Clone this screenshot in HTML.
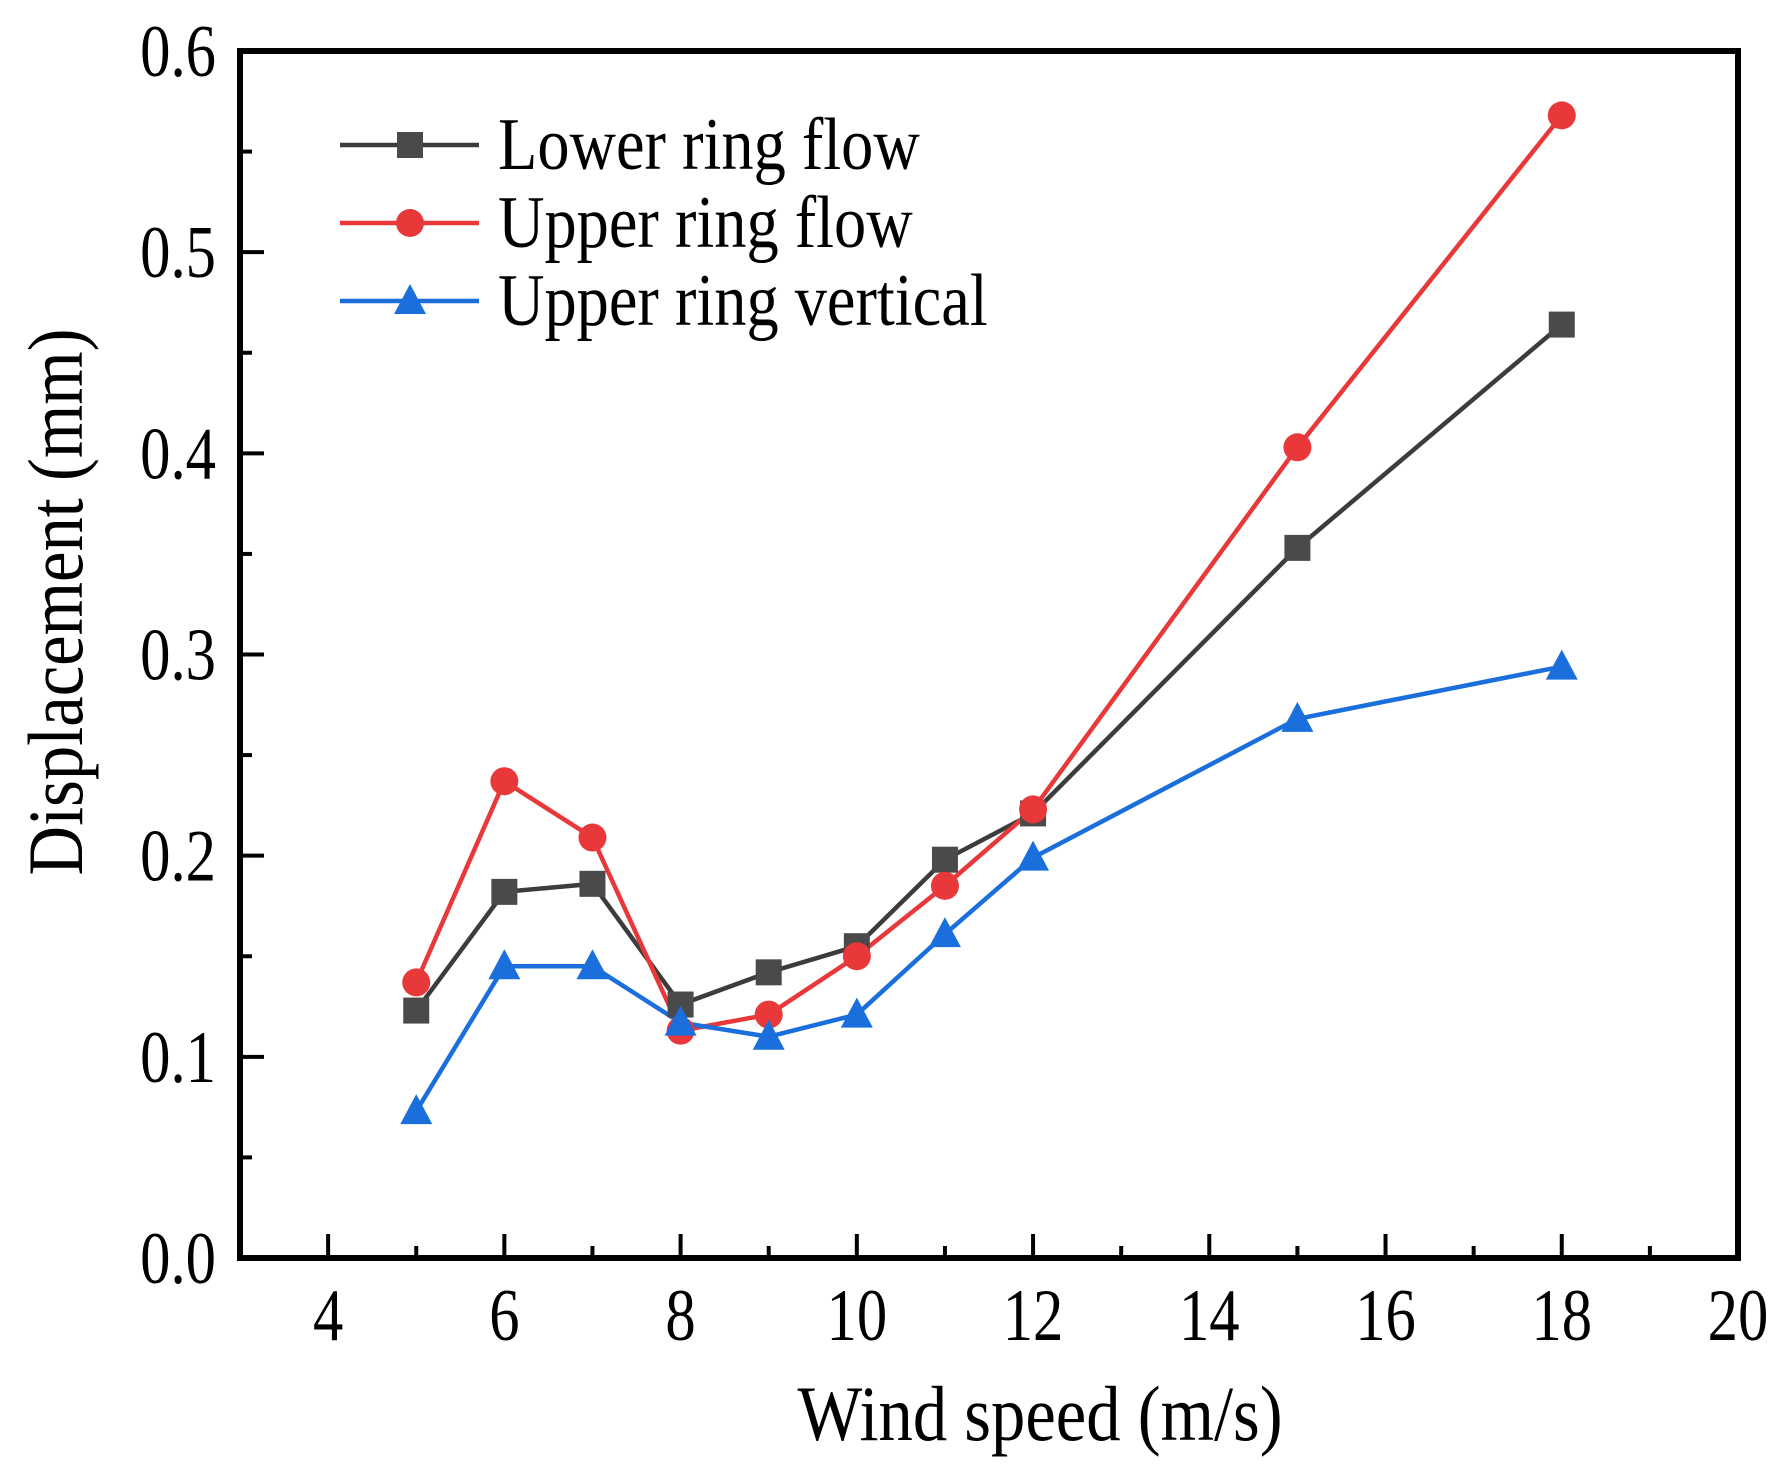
<!DOCTYPE html>
<html><head><meta charset="utf-8"><style>
html,body{margin:0;padding:0;background:#fff;}
svg text{font-family:"Liberation Serif",serif;fill:#000;}
</style></head><body>
<svg id="chart" width="1788" height="1471" viewBox="0 0 1788 1471" xmlns="http://www.w3.org/2000/svg">
<g id="plot"></g>
</svg>
<script>
const windSpeeds = [5,6,7,8,9,10,11,12,15,18];
const lowerRingFlow = [0.123,0.182,0.186,0.126,0.142,0.155,0.198,0.221,0.353,0.464];
const upperRingFlow = [0.137,0.237,0.209,0.113,0.121,0.150,0.185,0.223,0.403,0.568];
const upperRingVertical = [0.073,0.145,0.145,0.117,0.110,0.121,0.161,0.199,0.268,0.294];
const xTickLabels = ["4","6","8","10","12","14","16","18","20"];
const yTickLabels = ["0.0","0.1","0.2","0.3","0.4","0.5","0.6"];

const L=240,R=1738,T=51,B=1258,X0=3,X1=20,Y0=0,Y1=0.6;
const sx=v=>L+(v-X0)/(X1-X0)*(R-L);
const sy=v=>B-(v-Y0)/(Y1-Y0)*(B-T);
const NS='http://www.w3.org/2000/svg';
const g=document.getElementById('plot');
function mk(tag,attrs,parent){const e=document.createElementNS(NS,tag);for(const k in attrs)e.setAttribute(k,attrs[k]);(parent||g).appendChild(e);return e;}

const frame=mk('rect',{x:L,y:T,width:R-L,height:B-T,fill:'none',stroke:'#000','stroke-width':6});



xTickLabels.forEach(t=>{
  const v=parseFloat(t),x=sx(v);
  const tk=mk('line',{x1:x,x2:x,y1:B,y2:B-24,stroke:'#000','stroke-width':4});
  
  
  const tx=mk('text',{x:0,y:0,'text-anchor':'middle','font-size':74,transform:`translate(${x},${B+82}) scale(0.82,1)`});
  tx.textContent=t;
  
  
  if(v+1<X1){const xm=sx(v+1);
    const mt=mk('line',{x1:xm,x2:xm,y1:B,y2:B-12,stroke:'#000','stroke-width':4});
    
    }
});
yTickLabels.forEach(t=>{
  const v=parseFloat(t),y=sy(v);
  const tk=mk('line',{x1:L,x2:L+24,y1:y,y2:y,stroke:'#000','stroke-width':4});
  
  
  const tx=mk('text',{x:0,y:0,'text-anchor':'end','font-size':74,transform:`translate(${L-24},${y+25}) scale(0.82,1)`});
  tx.textContent=t;
  
  
  if(v+0.05<Y1){const ym=sy(v+0.05);
    const mt=mk('line',{x1:L,x2:L+12,y1:ym,y2:ym,stroke:'#000','stroke-width':4});
    
    }
});
const xt=mk('text',{x:0,y:0,'text-anchor':'middle','font-size':78,transform:'translate(1040,1440) scale(0.88,1)'});
xt.textContent='Wind speed (m/s)';


const yt=mk('text',{x:0,y:0,'text-anchor':'middle','font-size':78,transform:'translate(82,602) rotate(-90) scale(0.88,1)'});
yt.textContent='Displacement (mm)';



function marker(type,x,y,color,name){
  let m;
  if(type==='square') m=mk('rect',{x:x-13,y:y-13,width:26,height:26,fill:color});
  else if(type==='circle') m=mk('circle',{cx:x,cy:y,r:14,fill:color});
  else m=mk('polygon',{points:`${x},${y-17} ${x-16},${y+13} ${x+16},${y+13}`,fill:color});
  
  
}
const series=[
  {vals:lowerRingFlow,line:'#3c3c3c',fill:'#4a4a4a',type:'square',name:'lower-ring-flow'},
  {vals:upperRingFlow,line:'#e8383a',fill:'#e8383a',type:'circle',name:'upper-ring-flow'},
  {vals:upperRingVertical,line:'#1a6fdc',fill:'#1a6fdc',type:'triangle',name:'upper-ring-vertical'}
];
series.forEach(s=>{
  const pts=windSpeeds.map((w,i)=>sx(w)+','+sy(s.vals[i])).join(' ');
  const pl=mk('polyline',{points:pts,fill:'none',stroke:s.line,'stroke-width':4.5});
  
  
});
series.forEach(s=>{
  windSpeeds.forEach((w,i)=>marker(s.type,sx(w),sy(s.vals[i]),s.fill,s.name+'-point'));
});
const legendLabels=['Lower ring flow','Upper ring flow','Upper ring vertical'];
series.forEach((s,i)=>{
  const y=145+i*78;
  const ln=mk('line',{x1:340,x2:479,y1:y,y2:y,stroke:s.line,'stroke-width':4.5});
  
  
  marker(s.type,410,y,s.fill,'legend-marker');
  const tx=mk('text',{x:0,y:0,'font-size':74,transform:`translate(498,${y+24}) scale(0.87,1)`});
  tx.textContent=legendLabels[i];
  
  
});
</script>
</body></html>
